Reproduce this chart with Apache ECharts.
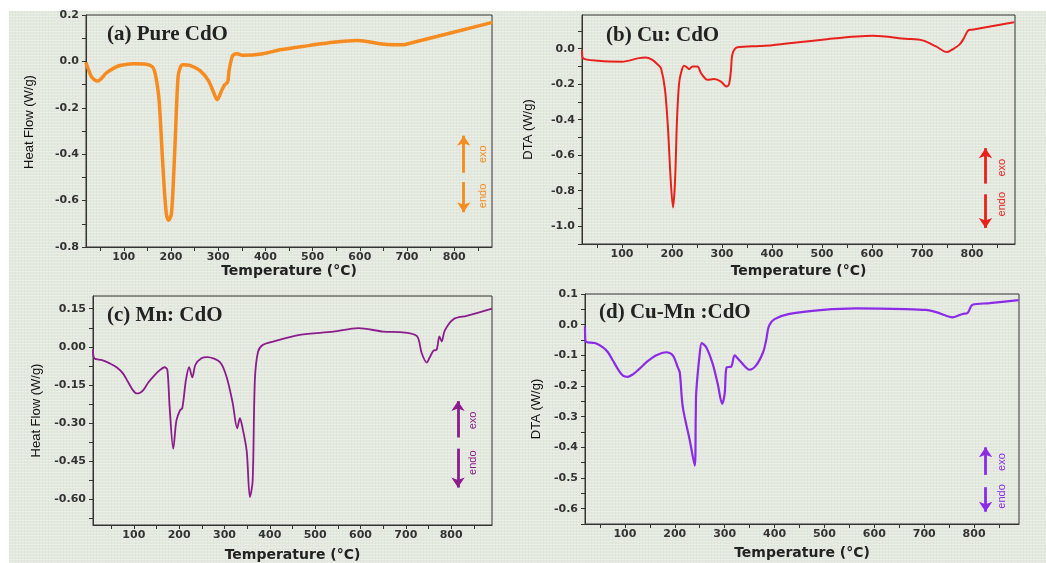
<!DOCTYPE html>
<html>
<head>
<meta charset="utf-8">
<title>DTA curves of pure and doped CdO</title>
<script src="https://cdn.jsdelivr.net/npm/echarts@6/dist/echarts.min.js"></script>
<style>
  html, body { margin: 0; padding: 0; background: #fff; }
  #paper {
    position: absolute; left: 9px; top: 11px; width: 1037px; height: 552px;
    background-color: #e3e9df;
    background-image:
      repeating-linear-gradient(0deg, rgba(255,255,255,0.22) 0 1px, transparent 1px 3px),
      repeating-linear-gradient(90deg, rgba(0,0,0,0.025) 0 1px, transparent 1px 3px);
  }
  #main { position: absolute; left: 0; top: 0; width: 1046px; height: 563px; }
</style>
</head>
<body>
<div id="paper"></div>
<div id="main"></div>
<script>
// temperature axis labels / ticks (shared)
const tempLabels = [100, 200, 300, 400, 500, 600, 700, 800];
const tempTicks = [50, 100, 150, 200, 250, 300, 350, 400, 450, 500, 550, 600, 650, 700, 750, 800, 850];

// (a) Pure CdO
const tempA = [20, 26, 33, 45, 52, 63, 78, 92, 120, 148, 160, 165, 170, 175, 183, 190, 195, 201, 208, 215, 220, 225, 240, 261, 279, 290, 298, 306, 313, 320, 323, 327, 331, 340, 353, 395, 431, 494, 544, 594, 615, 657, 692, 706, 881];
const flowA = [-0.005, -0.04, -0.07, -0.085, -0.075, -0.05, -0.03, -0.018, -0.01, -0.012, -0.022, -0.04, -0.09, -0.17, -0.455, -0.656, -0.685, -0.656, -0.384, -0.067, -0.025, -0.014, -0.017, -0.039, -0.082, -0.132, -0.165, -0.132, -0.103, -0.089, -0.04, 0.0, 0.026, 0.033, 0.026, 0.033, 0.05, 0.069, 0.083, 0.09, 0.086, 0.073, 0.072, 0.078, 0.168];
const yLabelsA = [-0.8, -0.6, -0.4, -0.2, 0.0, 0.2];
const yTicksA = [-0.8, -0.7, -0.6, -0.5, -0.4, -0.3, -0.2, -0.1, 0.0, 0.1, 0.2];

// (b) Cu: CdO
const tempB = [20, 22, 53, 100, 134, 147, 160, 172, 178, 186, 192, 197, 202, 206, 210, 214, 218, 224, 230, 234, 241, 251, 258, 271, 284, 298, 309, 314, 318, 321, 331, 375, 400, 501, 601, 668, 701, 728, 750, 762, 775, 783, 792, 800, 884];
const dtaB = [-0.006, -0.053, -0.068, -0.073, -0.053, -0.05, -0.062, -0.09, -0.11, -0.23, -0.45, -0.72, -0.894, -0.75, -0.40, -0.2, -0.137, -0.096, -0.105, -0.115, -0.10, -0.10, -0.137, -0.175, -0.171, -0.185, -0.213, -0.2, -0.12, -0.03, 0.008, 0.015, 0.02, 0.051, 0.073, 0.056, 0.047, 0.013, -0.019, -0.002, 0.023, 0.055, 0.102, 0.107, 0.149];
const yLabelsB = [-1.0, -0.8, -0.6, -0.4, -0.2, 0.0];
const yTicksB = [-1.1, -1.0, -0.9, -0.8, -0.7, -0.6, -0.5, -0.4, -0.3, -0.2, -0.1, 0.0, 0.1];

// (c) Mn: CdO
const tempC = [10, 13, 30, 47, 62, 76, 88, 98, 106, 114, 121, 132, 143, 155, 168, 174, 179, 187, 194, 202, 207, 215, 222, 229, 236, 249, 262, 290, 305, 318, 328, 334, 340, 349, 356, 362, 367, 374, 385, 407, 466, 540, 595, 650, 687, 724, 735, 746, 753, 761, 768, 774, 779, 786, 805, 834, 890];
const flowC = [-0.01, -0.045, -0.052, -0.065, -0.08, -0.104, -0.14, -0.17, -0.183, -0.18, -0.17, -0.14, -0.117, -0.095, -0.08, -0.09, -0.236, -0.40, -0.289, -0.249, -0.24, -0.13, -0.08, -0.12, -0.07, -0.045, -0.04, -0.06, -0.12, -0.22, -0.32, -0.28, -0.32, -0.41, -0.59, -0.53, -0.13, -0.019, 0.008, 0.021, 0.047, 0.06, 0.074, 0.06, 0.058, 0.043, -0.025, -0.062, -0.04, -0.015, -0.011, 0.041, 0.021, 0.065, 0.109, 0.122, 0.150];
const yLabelsC = [-0.60, -0.45, -0.30, -0.15, 0.00, 0.15];
const yTicksC = [-0.675, -0.6, -0.525, -0.45, -0.375, -0.3, -0.225, -0.15, -0.075, 0.0, 0.075, 0.15];

// (d) Cu-Mn :CdO
const tempD = [20, 21, 40, 56, 66, 76, 86, 96, 106, 116, 129, 145, 163, 183, 196, 206, 210, 216, 230, 240, 242, 243, 250, 254, 263, 276, 286, 295, 300, 304, 313, 320, 330, 350, 363, 377, 383, 389, 400, 430, 497, 563, 664, 704, 724, 757, 777, 787, 797, 831, 889];
const dtaD = [-0.006, -0.054, -0.06, -0.074, -0.09, -0.117, -0.145, -0.166, -0.17, -0.162, -0.144, -0.12, -0.10, -0.09, -0.10, -0.139, -0.156, -0.268, -0.377, -0.46, -0.30, -0.22, -0.095, -0.06, -0.074, -0.128, -0.193, -0.258, -0.225, -0.139, -0.137, -0.10, -0.117, -0.147, -0.133, -0.09, -0.052, -0.003, 0.018, 0.035, 0.048, 0.053, 0.051, 0.048, 0.041, 0.024, 0.035, 0.038, 0.065, 0.070, 0.080];
const yLabelsD = [-0.6, -0.5, -0.4, -0.3, -0.2, -0.1, 0.0, 0.1];
const yTicksD = [-0.65, -0.6, -0.55, -0.5, -0.45, -0.4, -0.35, -0.3, -0.25, -0.2, -0.15, -0.1, -0.05, 0.0, 0.05, 0.1];

const panels = [
  { title: '(a) Pure CdO', yName: 'Heat Flow (W/g)', x: tempA, y: flowA, yLabels: yLabelsA, yTicks: yTicksA, digits: 1,
    color: '#f68b1f', width: 3.5, xMin: 20, xMax: 880, yMin: -0.8, yMax: 0.2,
    grid: { left: 86, top: 15, width: 406, height: 232 }, titlePos: [102, 19], yGap: 50, yShift: 18, xGap: 17,
    arrowX: 820, up: [-0.48, -0.32], down: [-0.52, -0.65], textX: 860, exoY: -0.40, endoY: -0.58 },
  { title: '(b) Cu: CdO', yName: 'DTA (W/g)', x: tempB, y: dtaB, yLabels: yLabelsB, yTicks: yTicksB, digits: 1,
    color: '#e8211d', width: 2, xMin: 20, xMax: 886, yMin: -1.1, yMax: 0.19,
    grid: { left: 582, top: 15, width: 433, height: 229 }, titlePos: [601, 20], yGap: 47, yShift: 0, xGap: 20,
    arrowX: 827, up: [-0.76, -0.56], down: [-0.82, -1.01], textX: 860, exoY: -0.67, endoY: -0.876 },
  { title: '(c) Mn: CdO', yName: 'Heat Flow (W/g)', x: tempC, y: flowC, yLabels: yLabelsC, yTicks: yTicksC, digits: 2,
    color: '#8b1c8c', width: 1.8, xMin: 10, xMax: 890, yMin: -0.70, yMax: 0.20,
    grid: { left: 93, top: 296, width: 399, height: 229 }, titlePos: [102, 300], yGap: 50, yShift: 0, xGap: 23,
    arrowX: 815, up: [-0.356, -0.213], down: [-0.40, -0.553], textX: 848, exoY: -0.289, endoY: -0.455 },
  { title: '(d) Cu-Mn :CdO', yName: 'DTA (W/g)', x: tempD, y: dtaD, yLabels: yLabelsD, yTicks: yTicksD, digits: 1,
    color: '#8b2be6', width: 2.2, xMin: 20, xMax: 890, yMin: -0.65, yMax: 0.1,
    grid: { left: 585, top: 294, width: 434, height: 230 }, titlePos: [594, 297], yGap: 42, yShift: 0, xGap: 22,
    arrowX: 823, up: [-0.49, -0.40], down: [-0.53, -0.61], textX: 855, exoY: -0.448, endoY: -0.56 }
];

const axisColor = '#333';
const option = { animation: false, title: [], grid: [], xAxis: [], yAxis: [], series: [] };

panels.forEach(function (p, i) {
  option.title.push({
    text: p.title, left: p.titlePos[0], top: p.titlePos[1],
    textStyle: { fontFamily: 'Liberation Serif', fontWeight: 'bold', fontSize: 21, color: '#222' }
  });
  option.grid.push(Object.assign({ show: true, borderColor: axisColor, borderWidth: 1, backgroundColor: 'transparent' }, p.grid));
  option.xAxis.push({
    type: 'value', gridIndex: i, min: p.xMin, max: p.xMax,
    name: 'Temperature (°C)', nameLocation: 'middle', nameGap: p.xGap,
    nameTextStyle: { fontFamily: 'DejaVu Sans', fontWeight: 'bold', fontSize: 14, color: '#222' },
    axisLine: { onZero: false, lineStyle: { color: axisColor, width: 1 } },
    axisTick: { show: true, customValues: tempTicks, length: 4, lineStyle: { color: axisColor } },
    axisLabel: { customValues: tempLabels, margin: 5, fontFamily: 'DejaVu Sans', fontWeight: 'bold', fontSize: 11, color: '#333' },
    splitLine: { show: false }
  });
  option.yAxis.push({
    type: 'value', gridIndex: i, min: p.yMin, max: p.yMax,
    name: p.yName, nameLocation: 'middle', nameGap: p.yGap, nameRotate: 90,
    nameTextStyle: { fontFamily: 'Liberation Sans', fontSize: 13, color: '#111', padding: [0, 0, 0, p.yShift] },
    axisLine: { onZero: false, lineStyle: { color: axisColor, width: 1 } },
    axisTick: { show: true, customValues: p.yTicks, length: 4, lineStyle: { color: axisColor } },
    axisLabel: {
      customValues: p.yLabels, margin: 7, fontFamily: 'DejaVu Sans', fontWeight: 'bold', fontSize: 11, color: '#333',
      formatter: function (v) { return Number(v).toFixed(p.digits); }
    },
    splitLine: { show: false }
  });
  option.series.push({
    type: 'line', xAxisIndex: i, yAxisIndex: i,
    data: p.x.map(function (t, k) { return [t, p.y[k]]; }),
    symbol: 'none', smooth: 0.3,
    lineStyle: { color: p.color, width: p.width },
    markLine: {
      silent: true, symbol: ['none', 'arrow'], symbolSize: 10,
      label: { show: false },
      lineStyle: { color: p.color, width: 2.8, type: 'solid' },
      data: [
        [{ coord: [p.arrowX, p.up[0]] }, { coord: [p.arrowX, p.up[1]] }],
        [{ coord: [p.arrowX, p.down[0]] }, { coord: [p.arrowX, p.down[1]] }]
      ]
    },
    markPoint: {
      silent: true, symbol: 'circle', symbolSize: 0,
      label: { show: true, formatter: '{b}', rotate: 90, color: p.color, fontSize: 11, fontFamily: 'Liberation Sans' },
      data: [
        { name: 'exo', coord: [p.textX, p.exoY] },
        { name: 'endo', coord: [p.textX, p.endoY] }
      ]
    }
  });
});

const chart = echarts.init(document.getElementById('main'));
chart.setOption(option);
</script>
</body>
</html>
